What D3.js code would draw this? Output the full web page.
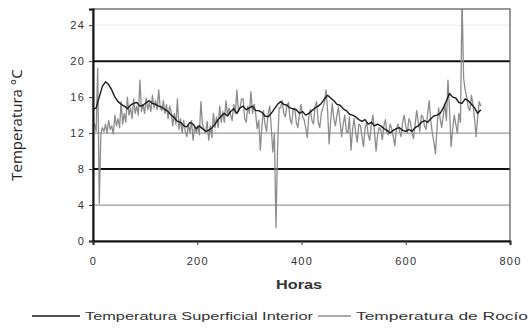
<!DOCTYPE html>
<html>
<head>
<meta charset="utf-8">
<script src="https://cdn.jsdelivr.net/npm/d3@7"></script>
<style>
  html, body { margin: 0; padding: 0; background: #fff; }
  svg { display: block; }
</style>
</head>
<body>
<svg id="chart" width="532" height="331"></svg>
<script>
// Interior surface temperature (°C), one reading every 6 h
const stepSuperficial = 6;
const superficial = [
  14.6, 14.8, 16.0, 17.2, 17.7, 17.4, 16.8, 16.0, 15.5, 15.2, 15.0, 14.7, 15.1, 15.3, 15.4, 15.0,
  15.1, 15.4, 15.6, 15.3, 15.2, 15.0, 14.9, 14.6, 14.4, 14.0, 13.7, 13.3, 13.2, 12.8, 12.7, 13.2,
  13.0, 12.5, 12.8, 12.5, 12.2, 12.3, 12.6, 13.0, 13.5, 13.9, 14.2, 13.9, 14.4, 14.7, 14.2, 14.8,
  15.0, 14.6, 14.8, 15.0, 14.5, 14.5, 14.3, 13.9, 13.8, 14.2, 14.7, 15.2, 15.5, 15.2, 15.1, 14.8,
  14.7, 14.6, 14.2, 14.4, 14.0, 14.2, 14.5, 14.8, 15.0, 15.3, 15.8, 16.2, 15.9, 15.6, 15.2, 15.1,
  14.7, 14.5, 14.1, 14.0, 13.8, 13.5, 13.3, 13.5, 13.0, 13.2, 12.8, 13.0, 12.8, 12.5, 12.3, 12.0,
  12.3, 12.5, 12.6, 12.3, 12.2, 12.4, 12.2, 12.6, 12.8, 13.2, 13.4, 13.2, 13.6, 13.9, 14.0, 14.2,
  14.8, 15.6, 16.4, 16.0, 15.9, 15.4, 15.3, 15.8, 15.6, 15.2, 14.8, 14.2, 14.6
];
// Dew point temperature (°C), one reading every 3 h
const stepRocio = 3;
const rocio = [
  12.6, 13.0, 12.2, 19.2, 4.2, 11.8, 12.6, 12.2,
  13.0, 12.0, 13.4, 12.4, 12.8, 11.9, 14.0, 12.8,
  13.6, 12.6, 15.5, 13.0, 14.2, 13.2, 16.0, 14.0,
  14.8, 13.6, 15.8, 14.2, 15.0, 14.0, 17.9, 14.4,
  15.2, 14.2, 15.9, 14.6, 15.4, 14.4, 16.2, 14.8,
  15.6, 14.6, 16.8, 14.8, 14.5, 15.6, 14.2, 15.2,
  13.6, 15.0, 14.4, 12.8, 14.2, 13.0, 15.8, 12.4,
  13.6, 12.0, 13.4, 12.2, 11.6, 13.0, 12.0, 13.4,
  11.2, 12.8, 12.0, 12.8, 11.8, 15.5, 13.0, 12.4,
  12.0, 13.3, 11.2, 12.8, 11.5, 14.2, 12.6, 13.8,
  12.6, 15.0, 13.2, 14.4, 13.2, 15.6, 14.0, 14.8,
  14.0, 13.4, 15.2, 14.2, 16.8, 14.4, 14.8, 15.8,
  15.8, 13.6, 13.2, 15.0, 14.2, 16.6, 14.2, 15.2,
  14.2, 12.5, 13.4, 10.1, 12.8, 14.5, 13.0, 12.2,
  14.2, 15.0, 12.6, 9.9, 12.0, 1.5, 10.0, 14.8,
  14.8, 15.6, 14.2, 13.8, 15.0, 15.4, 13.6, 13.0,
  14.6, 14.8, 13.2, 12.6, 14.0, 15.2, 13.8, 13.5,
  12.6, 11.5, 13.8, 14.6, 13.4, 13.0, 15.0, 15.5,
  13.2, 12.6, 14.2, 14.8, 15.4, 16.8, 14.6, 10.8,
  13.4, 15.3, 13.6, 12.8, 14.0, 14.9, 13.2, 11.6,
  13.0, 14.0, 12.2, 12.0, 13.8, 10.1, 12.4, 13.6,
  12.0, 11.0, 13.0, 12.8, 11.6, 10.5, 12.6, 13.2,
  11.8, 11.2, 13.0, 14.0, 12.2, 10.0, 11.8, 12.6,
  12.4, 11.3, 12.8, 13.5, 12.0, 11.8, 13.0, 12.5,
  11.6, 10.6, 12.4, 13.0, 12.2, 11.6, 13.2, 14.0,
  12.8, 12.0, 13.6, 13.2, 12.0, 11.4, 13.0, 14.5,
  13.2, 12.2, 14.0, 13.8, 12.8, 12.4, 14.2, 15.6,
  13.4, 12.0, 11.0, 9.7, 12.6, 14.8, 13.6, 12.6,
  14.0, 15.2, 13.4, 17.9, 14.6, 10.5, 12.4, 14.0,
  13.0, 12.0, 14.2, 13.2, 27.0, 18.1, 16.8, 16.0,
  14.8, 14.5, 16.2, 15.2, 13.6, 11.6, 13.8, 15.5,
  15.0
];
const xTicks = [0, 200, 400, 600, 800];
const yTicks = [0, 4, 8, 12, 16, 20, 24];
const seriesNames = ["Temperatura Superficial Interior", "Temperatura de Rocío"];
const seriesColors = ["#1a1a1a", "#8c8c8c"];

const svg = d3.select("#chart");
const m = { left: 93, right: 22, top: 9, bottom: 90 };
const W = 532, H = 331;

const x = d3.scaleLinear().domain([0, 800]).range([m.left, W - m.right]);
const y = d3.scaleLinear().domain([0, 25.8]).range([H - m.bottom, m.top]);

svg.append("defs").append("clipPath").attr("id", "plot")
  .append("rect")
  .attr("x", m.left).attr("y", m.top)
  .attr("width", x(800) - m.left).attr("height", y(0) - m.top);

// Horizontal reference lines: thresholds at 8 and 20 are heavy
const grid = [
  { v: 4, c: "#9a9a9a", w: 1.2 },
  { v: 12, c: "#9a9a9a", w: 1.2 },
  { v: 24, c: "#ececec", w: 1 },
  { v: 8, c: "#111", w: 2 },
  { v: 20, c: "#111", w: 2 }
];
svg.append("g").selectAll("line").data(grid).join("line")
  .attr("x1", m.left).attr("x2", x(800))
  .attr("y1", d => y(d.v)).attr("y2", d => y(d.v))
  .attr("stroke", d => d.c).attr("stroke-width", d => d.w);

// Series
const lineFor = step => d3.line().x((d, i) => x(i * step)).y(d => y(d));
const plot = svg.append("g").attr("clip-path", "url(#plot)");
plot.append("path").datum(rocio)
  .attr("d", lineFor(stepRocio)).attr("fill", "none")
  .attr("stroke", seriesColors[1]).attr("stroke-width", 1.3)
  .attr("stroke-linejoin", "round");
plot.append("path").datum(superficial)
  .attr("d", lineFor(stepSuperficial)).attr("fill", "none")
  .attr("stroke", seriesColors[0]).attr("stroke-width", 1.4)
  .attr("stroke-linejoin", "round");

// Frame
svg.append("rect")
  .attr("x", m.left).attr("y", m.top)
  .attr("width", x(800) - m.left).attr("height", y(0) - m.top)
  .attr("fill", "none").attr("stroke", "#555").attr("stroke-width", 1.2);

// Axes
const yAxis = svg.append("g").attr("transform", `translate(${m.left},0)`)
  .call(d3.axisLeft(y).tickValues(yTicks).tickSize(4).tickPadding(4));
const xAxis = svg.append("g").attr("transform", `translate(0,${y(0)})`)
  .call(d3.axisBottom(x).tickValues(xTicks).tickSize(4).tickPadding(12));
[yAxis, xAxis].forEach(a => {
  a.select(".domain").attr("stroke", "#111").attr("stroke-width", 2);
  a.selectAll(".tick line").attr("stroke", "#333");
  a.selectAll("text").attr("font-family", "Liberation Sans, Arial, sans-serif")
    .attr("font-size", 11).attr("fill", "#333").attr("letter-spacing", 1.2);
});

// Axis titles
svg.append("text")
  .attr("x", 299).attr("y", 289)
  .attr("text-anchor", "middle")
  .attr("font-family", "Liberation Sans, Arial, sans-serif")
  .attr("font-size", 12).attr("font-weight", "bold").attr("fill", "#333")
  .attr("textLength", 46).attr("lengthAdjust", "spacingAndGlyphs")
  .text("Horas");
svg.append("text")
  .attr("transform", `translate(22,${(m.top + y(0)) / 2}) rotate(-90)`)
  .attr("text-anchor", "middle")
  .attr("font-family", "Open Sans, sans-serif")
  .attr("font-size", 15).attr("fill", "#222")
  .text("Temperatura °C");

// Legend
const legend = [
  { x1: 32, x2: 80, tx: 85, len: 228 },
  { x1: 318, x2: 351, tx: 356, len: 172 }
];
const lg = svg.append("g");
legend.forEach((d, i) => {
  lg.append("line")
    .attr("x1", d.x1).attr("x2", d.x2).attr("y1", 316).attr("y2", 316)
    .attr("stroke", seriesColors[i]).attr("stroke-width", 1.5);
  lg.append("text")
    .attr("x", d.tx).attr("y", 320)
    .attr("font-family", "Liberation Sans, Arial, sans-serif")
    .attr("font-size", 11).attr("fill", "#333")
    .attr("textLength", d.len).attr("lengthAdjust", "spacingAndGlyphs")
    .text(seriesNames[i]);
});
</script>
</body>
</html>
